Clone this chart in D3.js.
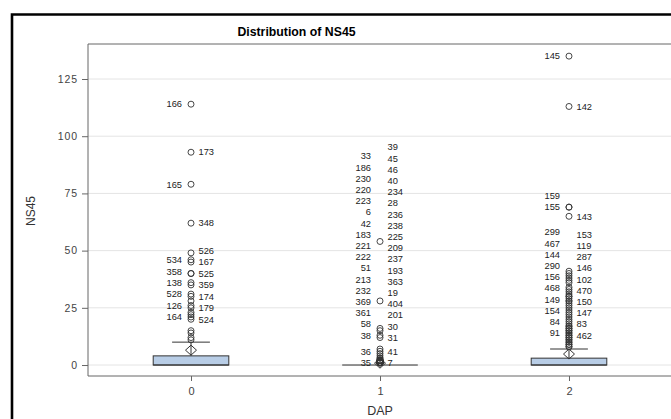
<!DOCTYPE html>
<html><head><meta charset="utf-8">
<script src="https://cdn.jsdelivr.net/npm/d3@7"></script>
<style>
html,body{margin:0;padding:0;background:#fff;overflow:hidden;width:671px;height:419px;}
svg{display:block;overflow:hidden;font-family:Arial,"Liberation Sans",sans-serif;}
</style>
</head><body>
<svg id="chart" width="671" height="419"></svg>
<script>
// Box statistics of NS45 by DAP
const categories = ["0", "1", "2"];
const q1 = [0, 0, 0];
const medians = [0, 0, 0];
const q3 = [4, 0, 3];
const whiskerLow = [0, 0, 0];
const whiskerHigh = [10, 0, 7];
const means = [6.5, 0.8, 4.8];
const yTicks = [0, 25, 50, 75, 100, 125];

// Outliers as [observation id, NS45], each label column listed from the bottom upward
const dap0Left = [["164", 21], ["126", 26], ["528", 31], ["138", 36], ["358", 40], ["534", 46], ["165", 79], ["166", 114]];
const dap0Right = [["524", 20], ["179", 25], ["174", 30], ["359", 35], ["525", 40], ["167", 45], ["526", 49], ["348", 62], ["173", 93]];
const dap0Unlabeled = [11, 12, 14, 15, 22, 23, 28];

const dap1Left = [["35", 1], ["36", 5], ["38", 13], ["58", 16], ["361", 1], ["369", 2], ["232", 6], ["213", 1], ["51", 7], ["222", 1],
  ["221", 2], ["183", 3], ["42", 1], ["6", 1], ["223", 2], ["220", 1], ["230", 1], ["186", 1], ["33", 2]];
const dap1Right = [["7", 1], ["41", 2], ["31", 12], ["30", 15], ["201", 1], ["404", 2], ["19", 28], ["363", 1], ["193", 1], ["237", 2],
  ["209", 1], ["225", 54], ["238", 1], ["236", 1], ["28", 3], ["234", 1], ["40", 2], ["46", 1], ["45", 1], ["39", 4]];
const dap1Unlabeled = [];

const dap2Left = [["91", 14], ["84", 17], ["154", 21], ["149", 25], ["468", 28], ["156", 30], ["290", 32], ["144", 36], ["467", 39],
  ["299", 41], ["155", 69], ["159", 69], ["145", 135]];
const dap2Right = [["462", 13], ["83", 15], ["147", 16], ["150", 19], ["470", 23], ["102", 29], ["146", 31], ["287", 33], ["119", 38],
  ["153", 40], ["143", 65], ["142", 113]];
const dap2Unlabeled = [8, 8, 9, 9, 10, 10, 11, 11, 12, 12, 13, 14, 15, 16, 17, 18, 20, 22, 24, 26, 27, 28, 30, 34, 37];

const groups = [
  {left: dap0Left, right: dap0Right, extra: dap0Unlabeled},
  {left: dap1Left, right: dap1Right, extra: dap1Unlabeled},
  {left: dap2Left, right: dap2Right, extra: dap2Unlabeled}
];

const svg = d3.select("#chart");
const W = 671, H = 419;
const plot = {left: 88, top: 44, right: 672, bottom: 376};

svg.append("rect").attr("width", W).attr("height", H).attr("fill", "#fff");

// outer border: left and top edges (the panel continues past the right and bottom)
svg.append("path")
  .attr("d", `M12,${H}V14.5H${W}`)
  .attr("fill", "none").attr("stroke", "#000").attr("stroke-width", 2.6);

svg.append("text")
  .attr("x", 296.5).attr("y", 36)
  .attr("text-anchor", "middle")
  .attr("font-size", 12.3).attr("font-weight", "bold").attr("fill", "#000")
  .text("Distribution of NS45");

const x = d3.scalePoint().domain(categories).range([plot.left, plot.right]).padding(0.545);
const y = d3.scaleLinear().domain([-4.8, 140.3]).range([plot.bottom, plot.top]);
const step = x.step();

// grid lines
svg.append("g").selectAll("line").data(yTicks).join("line")
  .attr("x1", plot.left).attr("x2", W)
  .attr("y1", d => y(d)).attr("y2", d => y(d))
  .attr("stroke", "#e4e4e4").attr("stroke-width", 1);

// plot frame: left, top and bottom edges
svg.append("path")
  .attr("d", `M${W},${plot.top}H${plot.left}V${plot.bottom}H${W}`)
  .attr("fill", "none").attr("stroke", "#666").attr("stroke-width", 1);

// axes
const yAxis = svg.append("g").attr("transform", `translate(${plot.left},0)`)
  .call(d3.axisLeft(y).tickValues(yTicks).tickSize(6).tickPadding(4));
yAxis.select(".domain").remove();
yAxis.selectAll("line").attr("stroke", "#666");
yAxis.selectAll("text").attr("font-size", 10.5).attr("fill", "#444")
  .attr("letter-spacing", 0.9).attr("font-family", "Arial, 'Liberation Sans', sans-serif");

const xAxis = svg.append("g").attr("transform", `translate(0,${plot.bottom})`)
  .call(d3.axisBottom(x).tickSize(5).tickPadding(6));
xAxis.select(".domain").remove();
xAxis.selectAll("line").attr("stroke", "#666");
xAxis.selectAll("text").attr("font-size", 11).attr("fill", "#444")
  .attr("font-family", "Arial, 'Liberation Sans', sans-serif");

svg.append("text")
  .attr("x", x("1")).attr("y", 415)
  .attr("text-anchor", "middle").attr("font-size", 12.5).attr("fill", "#333")
  .text("DAP");

svg.append("text")
  .attr("transform", `translate(35,211) rotate(-90)`)
  .attr("text-anchor", "middle").attr("font-size", 12).attr("fill", "#333")
  .text("NS45");

const boxW = step * 0.4;
const capW = step * 0.2;
const ink = "#333";

categories.forEach((c, i) => {
  const cx = x(c);
  const g = svg.append("g");

  // whisker + cap
  g.append("line").attr("x1", cx).attr("x2", cx)
    .attr("y1", y(q3[i])).attr("y2", y(whiskerHigh[i]))
    .attr("stroke", ink).attr("stroke-width", 1);
  g.append("line").attr("x1", cx).attr("x2", cx)
    .attr("y1", y(q1[i])).attr("y2", y(whiskerLow[i]))
    .attr("stroke", ink).attr("stroke-width", 1);
  if (whiskerHigh[i] > q3[i]) {
    g.append("line").attr("x1", cx - capW / 2).attr("x2", cx + capW / 2)
      .attr("y1", y(whiskerHigh[i])).attr("y2", y(whiskerHigh[i]))
      .attr("stroke", ink).attr("stroke-width", 1);
  }

  // box
  g.append("rect")
    .attr("x", cx - boxW / 2).attr("width", boxW)
    .attr("y", y(q3[i])).attr("height", Math.max(0, y(q1[i]) - y(q3[i])))
    .attr("fill", "#b8cde6").attr("stroke", ink).attr("stroke-width", 1);
  g.append("line").attr("x1", cx - boxW / 2).attr("x2", cx + boxW / 2)
    .attr("y1", y(medians[i])).attr("y2", y(medians[i]))
    .attr("stroke", ink).attr("stroke-width", 1);

  // mean marker
  const my = y(means[i]);
  g.append("path")
    .attr("d", `M${cx},${my - 5}L${cx + 5.5},${my}L${cx},${my + 5}L${cx - 5.5},${my}Z`)
    .attr("fill", "none").attr("stroke", ink).attr("stroke-width", 1);

  // outliers
  const grp = groups[i];
  const allVals = grp.left.map(d => d[1]).concat(grp.right.map(d => d[1]), grp.extra);
  g.append("g").selectAll("circle").data(allVals).join("circle")
    .attr("cx", cx).attr("cy", d => y(d)).attr("r", 3)
    .attr("fill", "none").attr("stroke", ink).attr("stroke-width", 0.9);

  // labels stacked upward so they never overlap
  const spacing = 11.2;
  function stack(list) {
    let prev = Infinity;
    return list.map(([id, v]) => {
      const ly = Math.min(y(v), prev - spacing);
      prev = ly;
      return {id, ly};
    });
  }
  g.append("g").selectAll("text").data(stack(grp.left)).join("text")
    .attr("x", cx - 9).attr("y", d => d.ly).attr("dy", "0.35em")
    .attr("text-anchor", "end").attr("font-size", 9.3).attr("fill", "#222")
    .text(d => d.id);
  g.append("g").selectAll("text").data(stack(grp.right)).join("text")
    .attr("x", cx + 7.5).attr("y", d => d.ly).attr("dy", "0.35em")
    .attr("text-anchor", "start").attr("font-size", 9.3).attr("fill", "#222")
    .text(d => d.id);
});
</script>
</body></html>
